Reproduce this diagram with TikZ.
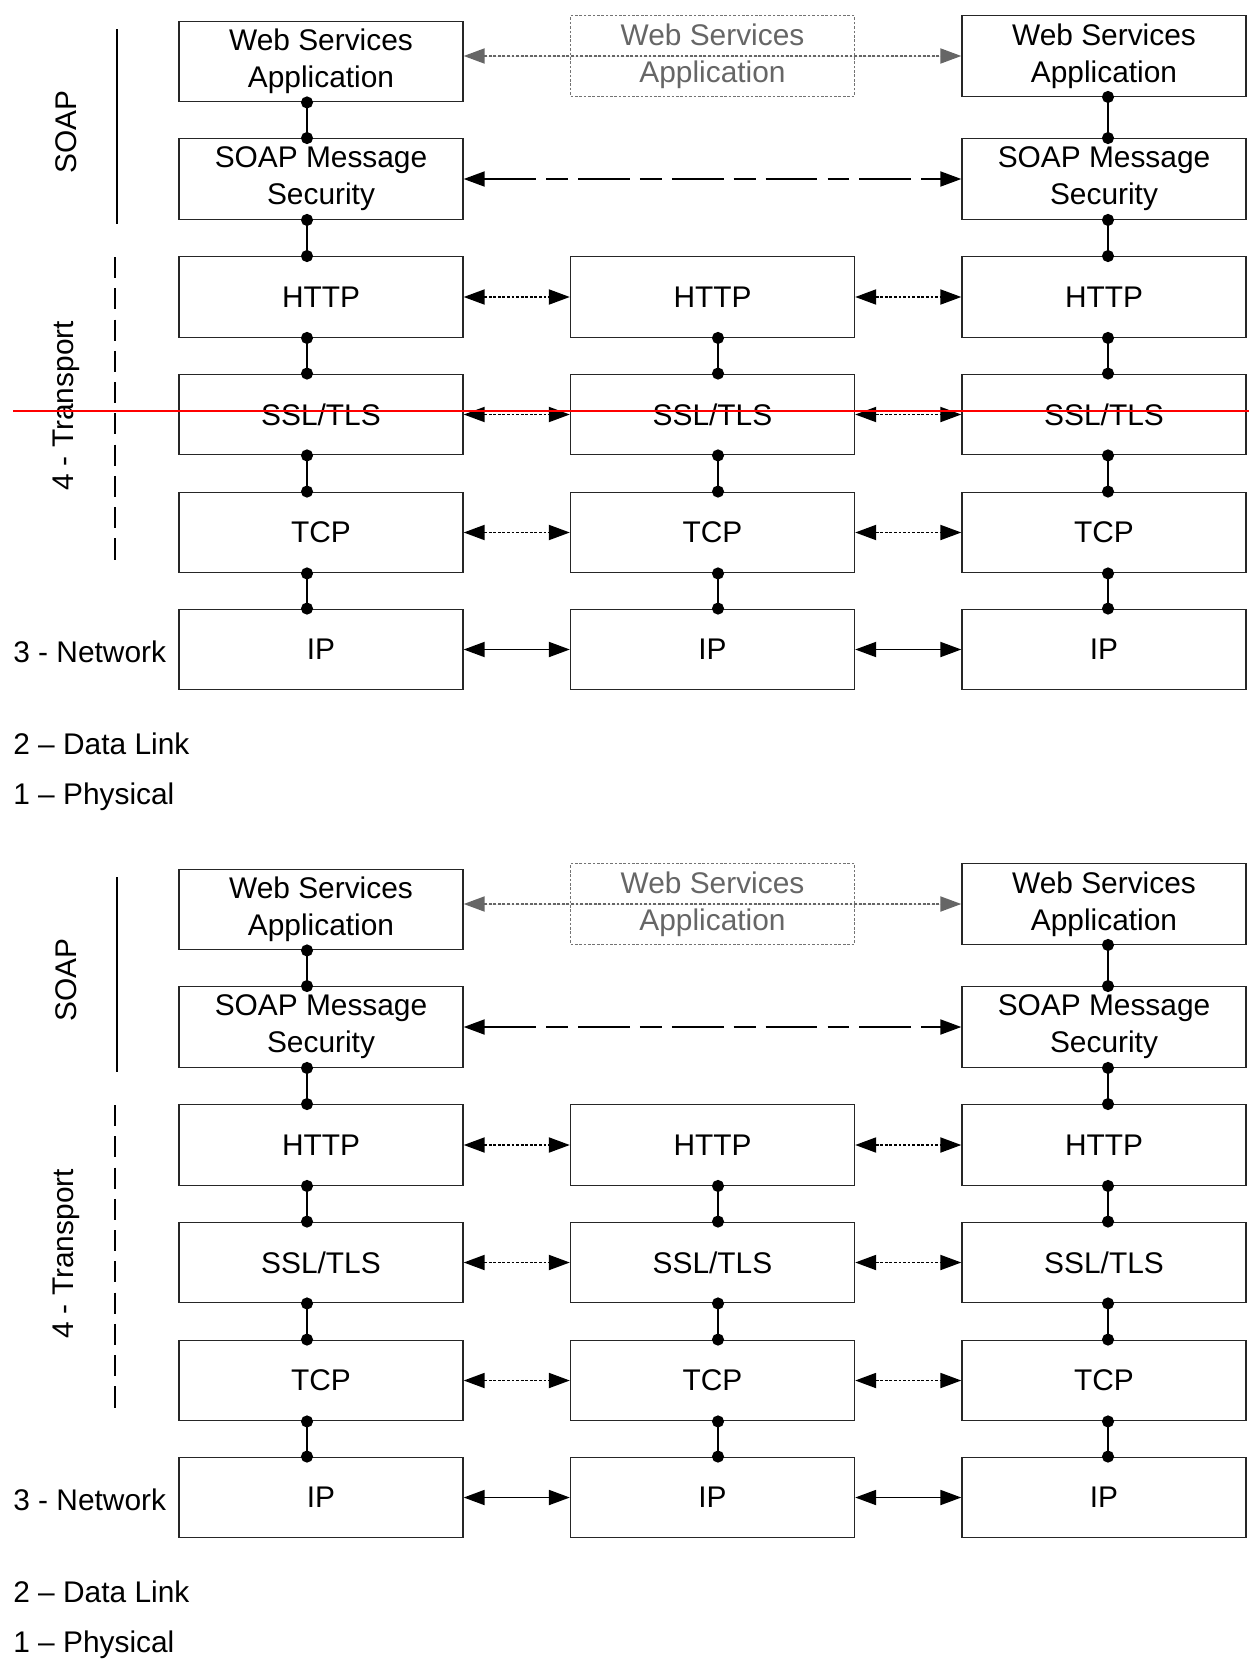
\documentclass[tikz,border=0pt]{standalone}
\usepackage{fontspec}
\setmainfont{Liberation Sans}
\usetikzlibrary{arrows.meta}
\tikzset{
  layer/.style={draw=black!85, line width=0.8pt, minimum width=5.68cm, minimum height=1.61cm, align=center, inner sep=0pt},
  ghost/.style={layer, draw=black!55, dash pattern=on 1.5pt off 1pt, text=black!60},
  link/.style={line width=1.1pt, {Circle[length=0.24cm]}-{Circle[length=0.24cm]}, shorten <=-0.12cm, shorten >=-0.12cm},
  peer/.style={line width=1.1pt, {Triangle[length=0.42cm,width=0.3cm]}-{Triangle[length=0.42cm,width=0.3cm]}},
  peerdot/.style={peer, dash pattern=on 1.6pt off 1pt},
  peerdash/.style={peer, dash pattern=on 29.5pt off 5.7pt on 12.5pt off 5.7pt},
  peerghost/.style={peer, draw=black!60, fill=black!60, dash pattern=on 1.6pt off 1pt},
  osi/.style={anchor=west, inner sep=0pt}
}
\begin{document}
\begin{tikzpicture}[x=0.02cm, y=-0.02cm, font=\fontsize{17pt}{21pt}\selectfont]
\useasboundingbox (0,0) rectangle (1249,1663);
\coordinate (xL) at (307,0);
\coordinate (xM) at (718,0);
\coordinate (xR) at (1108,0);

\foreach \off/\h in {0/a, 848/b} {
\begin{scope}[shift={(0,\off)}]
% OSI layers
\node[rotate=90] (soap-\h) at (66,132) {SOAP};
\node[rotate=90] (transport-\h) at (66,406) {4 - Transport};
\node[osi] (net-\h) at (13,652) {3 - Network};
\node[osi] (link-\h) at (13,744) {2 -- Data Link};
\node[osi] (phys-\h) at (13,797) {1 -- Physical};
\draw[line width=1.4pt] (117,29) -- (117,224);
\draw[line width=1.5pt, dash pattern=on 12pt off 5.8pt] (115,257) -- (115,561);

% SOAP stack
\node[layer] (wsa-L-\h) at (321,61.5) {Web Services\\Application};
\node[ghost] (wsa-M-\h) at (712.5,56) {Web Services\\Application};
\node[layer] (wsa-R-\h) at (1104,56) {Web Services\\Application};
\node[layer] (soap-L-\h) at (321,179) {SOAP Message\\Security};
\node[layer] (soap-R-\h) at (1104,179) {SOAP Message\\Security};

% transport and network
\foreach \r/\y/\txt in {http/297/HTTP, ssl/414.5/{SSL/TLS}, tcp/532.5/TCP, ip/649.5/IP} {
  \node[layer] (\r-L-\h) at (321,\y) {\txt};
  \node[layer] (\r-M-\h) at (712.5,\y) {\txt};
  \node[layer] (\r-R-\h) at (1104,\y) {\txt};
}

% stack links
\foreach \a/\b in {wsa/soap, soap/http, http/ssl, ssl/tcp, tcp/ip} {
  \draw[link] (\a-L-\h.south -| xL) -- (\b-L-\h.north -| xL);
  \draw[link] (\a-R-\h.south -| xR) -- (\b-R-\h.north -| xR);
}
\foreach \a/\b in {http/ssl, ssl/tcp, tcp/ip}
  \draw[link] (\a-M-\h.south -| xM) -- (\b-M-\h.north -| xM);

% peer links
\draw[peerghost] (wsa-L-\h.east |- wsa-M-\h.center) -- (wsa-R-\h.west);
\draw[peerdash] (soap-L-\h.east) -- (soap-R-\h.west);
\foreach \r in {http, ssl, tcp} {
  \draw[peerdot] (\r-L-\h.east) -- (\r-M-\h.west);
  \draw[peerdot] (\r-M-\h.east) -- (\r-R-\h.west);
}
\draw[peer] (ip-L-\h.east) -- (ip-M-\h.west);
\draw[peer] (ip-M-\h.east) -- (ip-R-\h.west);
\end{scope}
}

\draw[red, line width=0.9pt] (13,411) -- (1249,411);
\end{tikzpicture}
\end{document}
